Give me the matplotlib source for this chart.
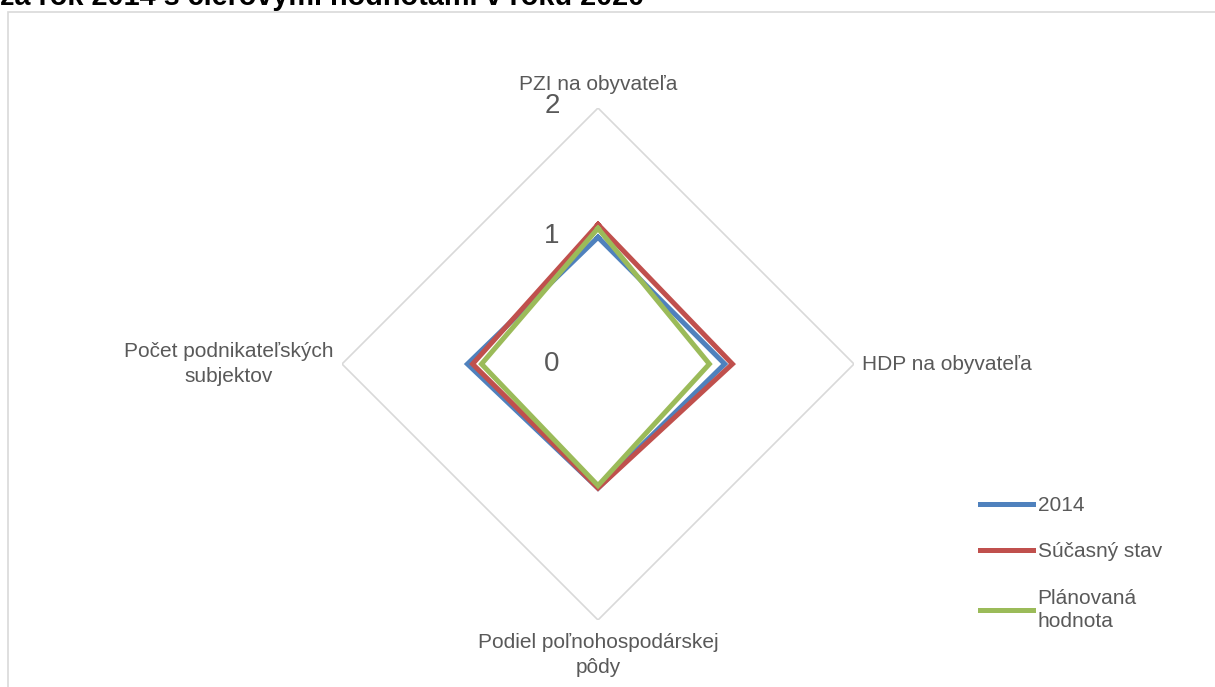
import numpy as np
import matplotlib
matplotlib.use("Agg")
import matplotlib.pyplot as plt
from matplotlib.patches import Rectangle

plt.rcParams['font.family'] = ['Liberation Sans', 'DejaVu Sans']

categories = ["PZI na obyvateľa", "HDP na obyvateľa",
              "Podiel poľnohospodárskej\npôdy", "Počet podnikateľských\nsubjektov"]
series_names = ["2014", "Súčasný stav", "Plánovaná\nhodnota"]
values_2014 = [0.99, 0.99, 0.97, 1.02]
values_current = [1.09, 1.05, 0.97, 0.98]
values_planned = [1.06, 0.87, 0.95, 0.91]
tick_values = [0, 1, 2]
title_text = "za rok 2014 s cieľovými hodnotami v roku 2020"

colors = ["#4F81BD", "#C0504D", "#9BBB59"]
text_color = "#595959"
grid_color = "#D9D9D9"

W, H = 1215, 687
fig = plt.figure(figsize=(W / 100, H / 100), dpi=100)

# outer border
fig.patches.append(Rectangle((8 / W, -0.1), 1.2, (H - 12) / H + 0.1,
                             transform=fig.transFigure, fill=False,
                             edgecolor=grid_color, lw=1.2))

# clipped title
fig.text(0.0, 1 - 5 / H, title_text, fontsize=20.8, fontweight='bold',
         color='black', ha='left', va='baseline')

cx, cy, R = 598, 364, 256
ax = fig.add_axes([(cx - R) / W, (H - cy - R) / H, 2 * R / W, 2 * R / H],
                  projection='polar')
ax.set_theta_zero_location('N')
ax.set_theta_direction(-1)
ax.set_ylim(0, 2)
ax.grid(False)
ax.spines['polar'].set_visible(False)
ax.set_xticks([])
ax.set_yticks([])
ax.patch.set_visible(False)

n = len(categories)
theta = np.arange(n) * 2 * np.pi / n
theta_c = np.append(theta, theta[0])

# outer grid polygon
ax.plot(theta_c, [tick_values[-1]] * (n + 1), color=grid_color, lw=1.2, zorder=1)

handles = []
for vals, col, name in zip([values_2014, values_current, values_planned], colors, series_names):
    v = np.append(vals, vals[0])
    h, = ax.plot(theta_c, v, color=col, lw=3.6, solid_joinstyle='miter', label=name, zorder=3)
    handles.append(h)

# category labels
ax.text(theta[0], 2.11, categories[0], ha='center', va='bottom', fontsize=15, color=text_color)
ax.text(theta[1], 2.06, categories[1], ha='left', va='center', fontsize=15, color=text_color)
ax.text(theta[2], 2.1, categories[2], ha='center', va='top', fontsize=15, color=text_color,
        multialignment='center', linespacing=1.4)
ax.text(theta[3], 2.07, categories[3], ha='right', va='center', fontsize=15, color=text_color,
        multialignment='center', linespacing=1.45)

# radial tick labels
for t in tick_values:
    dy = 2 if t == tick_values[-1] else 0
    ax.annotate(str(t), xy=(0, t), xytext=(-46, dy), textcoords='offset pixels',
                ha='center', va='center', fontsize=20, color=text_color)

leg = fig.legend(handles=handles, loc='upper left', bbox_to_anchor=(972 / W, 1 - 488 / H),
                 frameon=False, fontsize=15, handlelength=2.55, handletextpad=0.2,
                 labelspacing=1.3, borderaxespad=0)
for t in leg.get_texts():
    t.set_color(text_color)
    t.set_linespacing(1.3)

fig.savefig("out.png", dpi=100)
